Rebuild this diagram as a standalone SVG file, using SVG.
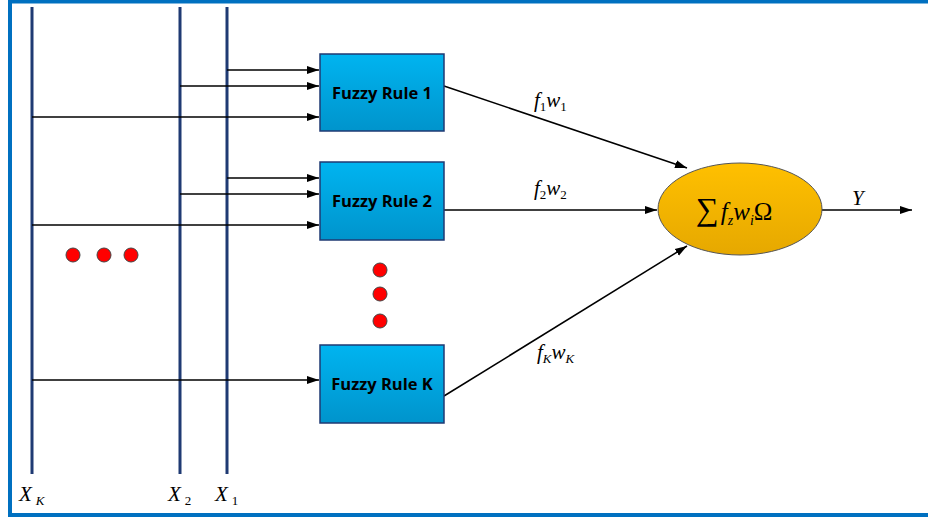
<svg xmlns="http://www.w3.org/2000/svg" width="928" height="517" viewBox="0 0 928 517">
<style>
.bus{stroke:#1F3A73;stroke-width:3;fill:none}
.con{stroke:#000;stroke-width:1.5;fill:none;marker-end:url(#ah)}
.box{fill:url(#gb);stroke:#1F3A73;stroke-width:1.5}
.bt{font-family:"Open Sans","Liberation Sans",sans-serif;font-weight:bold;font-size:16.5px;fill:#000;text-anchor:middle}
.m{font-family:"Liberation Serif",serif;font-style:italic;font-size:21px;fill:#000}
.s{font-size:13px}
.dot{fill:#F00;stroke:#444;stroke-width:1}
</style>
<defs>
<linearGradient id="gb" x1="0" y1="0" x2="0" y2="1"><stop offset="0" stop-color="#00B4F0"/><stop offset="1" stop-color="#0094CC"/></linearGradient>
<linearGradient id="ge" x1="0" y1="0" x2="0" y2="1"><stop offset="0" stop-color="#FFC000"/><stop offset="1" stop-color="#E6A800"/></linearGradient>
<marker id="ah" viewBox="0 0 12 10" refX="12" refY="5" markerWidth="12" markerHeight="10" markerUnits="userSpaceOnUse" orient="auto"><path d="M0,1 L12,5 L0,9 z" fill="#000"/></marker>
</defs>
<rect x="0" y="0" width="928" height="517" fill="#fff"/>
<path d="M10,517 V1.5 H928 M10,515 H928" stroke="#0070C0" stroke-width="4" fill="none"/>
<g id="buses">
<line class="bus" x1="32" y1="7" x2="32" y2="474"/>
<line class="bus" x1="180" y1="7" x2="180" y2="474"/>
<line class="bus" x1="227" y1="7" x2="227" y2="474"/>
</g>
<g id="connectors">
<line class="con" x1="227" y1="70" x2="319" y2="70"/>
<line class="con" x1="180" y1="86" x2="319" y2="86"/>
<line class="con" x1="32" y1="117" x2="319" y2="117"/>
<line class="con" x1="227" y1="178" x2="319" y2="178"/>
<line class="con" x1="180" y1="194" x2="319" y2="194"/>
<line class="con" x1="32" y1="225" x2="319" y2="225"/>
<line class="con" x1="32" y1="380" x2="319" y2="380"/>
<line class="con" x1="444" y1="86" x2="687" y2="168"/>
<line class="con" x1="444" y1="210" x2="657" y2="210"/>
<line class="con" x1="444" y1="396" x2="687" y2="246"/>
<line class="con" x1="822" y1="210" x2="912" y2="210"/>
</g>
<g id="rule1"><rect class="box" x="320" y="54" width="124" height="77"/><text class="bt" x="382" y="99">Fuzzy Rule 1</text></g>
<g id="rule2"><rect class="box" x="320" y="162" width="124" height="78"/><text class="bt" x="382" y="207">Fuzzy Rule 2</text></g>
<g id="ruleK"><rect class="box" x="320" y="345" width="124" height="78"/><text class="bt" x="382" y="390">Fuzzy Rule K</text></g>
<g id="sum"><ellipse cx="740" cy="209" rx="82" ry="46" fill="url(#ge)" stroke="#555" stroke-width="1"/>
<text x="696" y="220" font-family="Liberation Serif, serif" font-size="25" fill="#000"><tspan font-size="32">∑</tspan><tspan font-style="italic" dx="2">f</tspan><tspan font-style="italic" font-size="14" dy="5">z</tspan><tspan font-style="italic" dy="-5">w</tspan><tspan font-style="italic" font-size="14" dy="5">i</tspan><tspan dy="-5">Ω</tspan></text></g>
<g id="labels">
<text class="m" x="534" y="107">f<tspan class="s" font-style="normal" dy="4">1</tspan><tspan dy="-4">w</tspan><tspan class="s" font-style="normal" dy="4">1</tspan></text>
<text class="m" x="534" y="195">f<tspan class="s" font-style="normal" dy="4">2</tspan><tspan dy="-4">w</tspan><tspan class="s" font-style="normal" dy="4">2</tspan></text>
<text class="m" x="537" y="359">f<tspan class="s" dy="4">K</tspan><tspan dy="-4">w</tspan><tspan class="s" dy="4">K</tspan></text>
<text class="m" x="852" y="205">Y</text>
<text class="m" x="19" y="501">X<tspan class="s" dy="4" dx="4">K</tspan></text>
<text class="m" x="168" y="501">X<tspan class="s" font-style="normal" dy="4" dx="4">2</tspan></text>
<text class="m" x="215" y="501">X<tspan class="s" font-style="normal" dy="4" dx="4">1</tspan></text>
</g>
<g id="dots">
<circle class="dot" cx="73" cy="255" r="7"/><circle class="dot" cx="104" cy="255" r="7"/><circle class="dot" cx="131" cy="255" r="7"/>
<circle class="dot" cx="380" cy="270" r="7"/><circle class="dot" cx="380" cy="294" r="7"/><circle class="dot" cx="380" cy="321" r="7"/>
</g>
</svg>
